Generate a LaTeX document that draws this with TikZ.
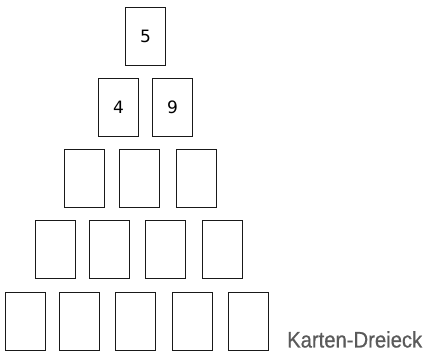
\documentclass[tikz,border=0pt]{standalone}
\usepackage{fontspec}
\usepackage{tikz}
\newfontfamily\digitfont{DejaVu Sans}
\newfontfamily\capfont[FakeBold=0.6]{Liberation Sans}
\definecolor{cdframe}{RGB}{25,25,25}
\definecolor{cdgray}{RGB}{90,90,90}

\begin{document}
\begin{tikzpicture}[
        x=1pt, y=1pt,
        card/.style={draw=cdframe, line width=0.9pt, minimum width=40pt, minimum height=58pt, inner sep=0pt, font=\digitfont\fontsize{17}{17}\selectfont},
        cardname/.style={font=\capfont\fontsize{22.5}{22.5}\selectfont, text=cdgray, anchor=base west, inner sep=0pt, xscale=0.9, transform shape}
      ]
      \useasboundingbox (0,0) rectangle (429,351);
      % top
      \node[card] (c11) at (145.5,314.5) {5};
      \node[card] (c21) at (118.5,243.5) {4};
      \node[card] (c22) at (172.5,243.5) {9};
      % empty rows
      \node[card] (c31) at (84.5,172.5) {};
      \node[card] (c32) at (139.5,172.5) {};
      \node[card] (c33) at (196.5,172.5) {};

      \node[card] (c41) at (55.5,101.5) {};
      \node[card] (c42) at (109.5,101.5) {};
      \node[card] (c43) at (165.5,101.5) {};
      \node[card] (c44) at (222.5,101.5) {};

      \node[card] (c51) at (25.5,30) {};
      \node[card] (c52) at (79,30) {};
      \node[card] (c53) at (135.5,30) {};
      \node[card] (c54) at (192,30) {};
      \node[card] (c55) at (248,30) {};

      \node[cardname] (title) at (287,3.5) {Karten-Dreieck};
    \end{tikzpicture}
\end{document}
